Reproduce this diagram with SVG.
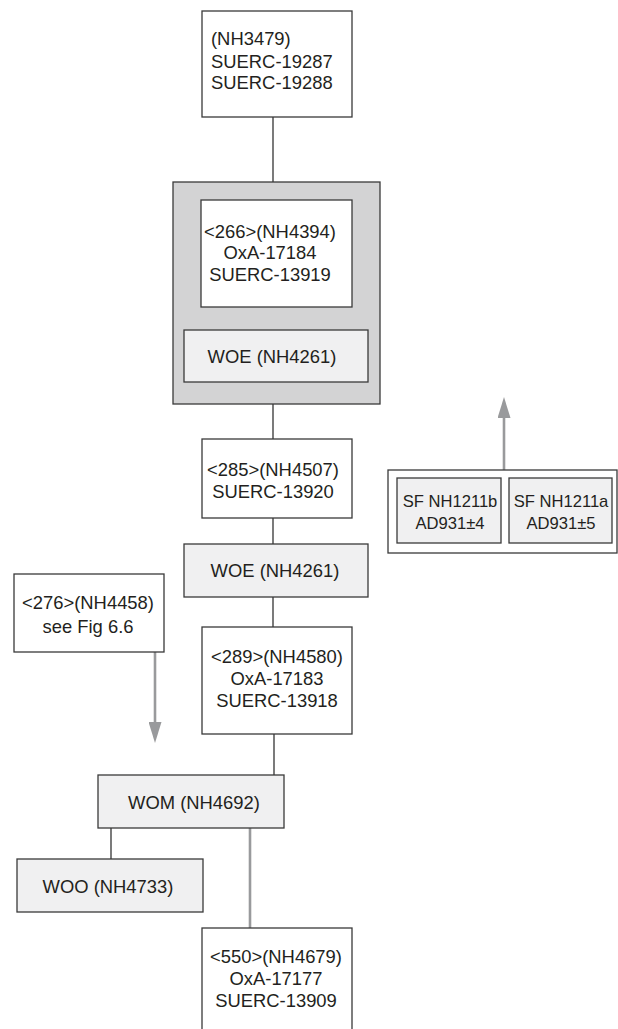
<svg xmlns="http://www.w3.org/2000/svg" width="618" height="1029" viewBox="0 0 618 1029">
  <style>
    .box { fill: #ffffff; stroke: #3a3a3a; stroke-width: 1.3; }
    .ctx { fill: #f0f0f1; stroke: #3a3a3a; stroke-width: 1.3; }
    .grp { fill: #d3d3d4; stroke: #3a3a3a; stroke-width: 1.3; }
    .lbl { font-family: "Liberation Sans", Arial, sans-serif; font-size: 18.4px; fill: #231f20; text-anchor: middle; }
    .sm { font-size: 16.6px; }
    .left { text-anchor: start; }
    .link { stroke: #333333; stroke-width: 1.3; fill: none; }
    .ref { stroke: #999a9c; stroke-width: 2.6; fill: none; }
  </style>
  <defs>
    <!-- grey arrowhead; placed at the end of a line that stops at its base -->
    <marker id="grey-head" viewBox="0 0 21 13" refX="0" refY="6.5" markerUnits="userSpaceOnUse" markerWidth="21" markerHeight="13" orient="auto">
      <path d="M0,0 L21,6.5 L0,13 Z" fill="#999a9c"/>
    </marker>
  </defs>

  <rect width="618" height="1029" fill="#ffffff"/>

  <g id="connectors">
    <line class="link" x1="273" y1="117" x2="273" y2="182"/>
    <line class="link" x1="273" y1="404" x2="273" y2="439"/>
    <line class="link" x1="273" y1="518" x2="273" y2="544"/>
    <line class="link" x1="273" y1="597" x2="273" y2="627"/>
    <line class="link" x1="274" y1="734" x2="274" y2="775"/>
    <line class="link" x1="111" y1="828" x2="111" y2="859"/>
    <line class="ref" x1="250" y1="828" x2="250" y2="928"/>
    <line class="ref" x1="155" y1="652" x2="155" y2="722" marker-end="url(#grey-head)"/>
    <line class="ref" x1="504" y1="470" x2="504" y2="418" marker-end="url(#grey-head)"/>
  </g>

  <g id="nh3479">
    <rect class="box" x="202" y="11" width="150" height="106"/>
    <text class="lbl left" x="211" y="45">(NH3479)</text>
    <text class="lbl left" x="211" y="68">SUERC-19287</text>
    <text class="lbl left" x="211" y="89">SUERC-19288</text>
  </g>

  <g id="group-nh4394">
    <rect class="grp" x="173" y="182" width="207" height="222"/>
    <g id="nh4394">
      <rect class="box" x="201" y="200" width="151" height="107"/>
      <text class="lbl" x="270" y="238">&lt;266&gt;(NH4394)</text>
      <text class="lbl" x="270" y="259">OxA-17184</text>
      <text class="lbl" x="270" y="281">SUERC-13919</text>
    </g>
    <g id="woe-a">
      <rect class="ctx" x="184" y="330" width="184" height="52"/>
      <text class="lbl" x="272" y="363">WOE (NH4261)</text>
    </g>
  </g>

  <g id="nh4507">
    <rect class="box" x="202" y="439" width="150" height="79"/>
    <text class="lbl" x="273" y="476">&lt;285&gt;(NH4507)</text>
    <text class="lbl" x="273" y="498">SUERC-13920</text>
  </g>

  <g id="woe-b">
    <rect class="ctx" x="184" y="544" width="184" height="53"/>
    <text class="lbl" x="275" y="577">WOE (NH4261)</text>
  </g>

  <g id="nh4458">
    <rect class="box" x="14" y="574" width="150" height="78"/>
    <text class="lbl" x="88" y="609">&lt;276&gt;(NH4458)</text>
    <text class="lbl" x="88" y="633">see Fig 6.6</text>
  </g>

  <g id="nh4580">
    <rect class="box" x="202" y="627" width="150" height="107"/>
    <text class="lbl" x="277" y="663">&lt;289&gt;(NH4580)</text>
    <text class="lbl" x="277" y="685">OxA-17183</text>
    <text class="lbl" x="277" y="707">SUERC-13918</text>
  </g>

  <g id="wom">
    <rect class="ctx" x="98" y="775" width="186" height="53"/>
    <text class="lbl" x="194" y="809">WOM (NH4692)</text>
  </g>

  <g id="woo">
    <rect class="ctx" x="17" y="859" width="186" height="53"/>
    <text class="lbl" x="108" y="893">WOO (NH4733)</text>
  </g>

  <g id="nh4679">
    <rect class="box" x="202" y="928" width="150" height="120"/>
    <text class="lbl" x="276" y="963">&lt;550&gt;(NH4679)</text>
    <text class="lbl" x="276" y="985">OxA-17177</text>
    <text class="lbl" x="276" y="1007">SUERC-13909</text>
  </g>

  <g id="group-nh1211">
    <rect class="box" x="388" y="470" width="229" height="83"/>
    <g id="nh1211b">
      <rect class="ctx" x="397" y="478" width="104" height="65"/>
      <text class="lbl sm" x="450" y="507">SF NH1211b</text>
      <text class="lbl sm" x="450" y="529">AD931±4</text>
    </g>
    <g id="nh1211a">
      <rect class="ctx" x="509" y="478" width="103" height="65"/>
      <text class="lbl sm" x="561" y="507">SF NH1211a</text>
      <text class="lbl sm" x="561" y="529">AD931±5</text>
    </g>
  </g>
</svg>
